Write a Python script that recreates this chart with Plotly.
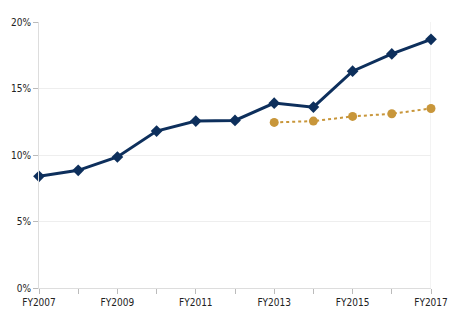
import plotly.graph_objects as go

years = [2007, 2008, 2009, 2010, 2011, 2012, 2013, 2014, 2015, 2016, 2017]
blue_vals = [8.4, 8.85, 9.85, 11.8, 12.55, 12.6, 13.9, 13.6, 16.3, 17.6, 18.7]
orange_years = [2013, 2014, 2015, 2016, 2017]
orange_vals = [12.45, 12.55, 12.9, 13.1, 13.5]
x_tick_text = ["FY2007", "", "FY2009", "", "FY2011", "", "FY2013", "", "FY2015", "", "FY2017"]
y_ticks = [0, 5, 10, 15, 20]
y_tick_text = ["0%", "5%", "10%", "15%", "20%"]

fig = go.Figure()
fig.add_trace(go.Scatter(
    x=orange_years, y=orange_vals, mode="lines+markers",
    line=dict(color="#c8963a", width=2, dash="dot"),
    marker=dict(symbol="circle", size=9, color="#c8963a"),
    cliponaxis=False, showlegend=False))
fig.add_trace(go.Scatter(
    x=years, y=blue_vals, mode="lines+markers",
    line=dict(color="#0d2f5c", width=3),
    marker=dict(symbol="diamond", size=9, color="#0d2f5c"),
    cliponaxis=False, showlegend=False))

font = dict(family="DejaVu Sans Condensed, Liberation Sans Narrow, sans-serif", size=10, color="#222222")
fig.update_layout(
    width=451, height=303,
    margin=dict(l=31, r=28, t=14, b=23, autoexpand=False),
    paper_bgcolor="white", plot_bgcolor="white",
    font=font,
    xaxis=dict(range=[2007, 2017], tickvals=years, ticktext=x_tick_text,
               showgrid=False, zeroline=False, ticks="outside", ticklen=5,
               tickcolor="#bbbbbb", showline=True, linecolor="#dddddd",
               automargin=False, tickfont=font),
    yaxis=dict(range=[0, 20], tickvals=y_ticks, ticktext=y_tick_text,
               showgrid=True, gridcolor="#eeeeee", zeroline=False,
               ticks="outside", ticklen=5, tickcolor="#bbbbbb",
               showline=True, linecolor="#dddddd", automargin=False,
               tickfont=font),
)
fig.add_shape(type="line", xref="x", yref="paper", x0=2017, x1=2017, y0=0, y1=1,
              line=dict(color="#e6e6e6", width=1), layer="below")
fig.write_html("out.html")
